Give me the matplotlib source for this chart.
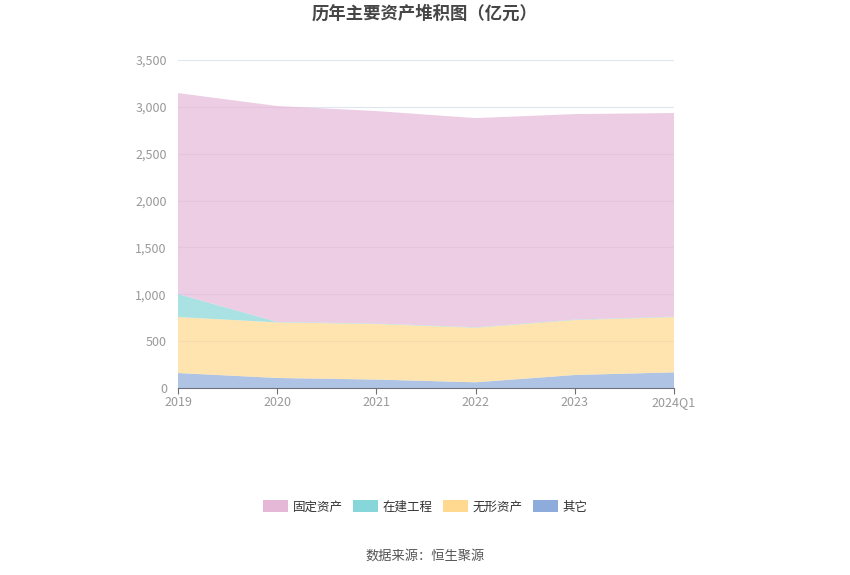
import matplotlib
matplotlib.use("Agg")
import matplotlib.pyplot as plt
from matplotlib.patches import Patch
from matplotlib.ticker import FuncFormatter

plt.rcParams['font.family'] = ['Noto Sans CJK SC', 'DejaVu Sans']

categories = ["2019", "2020", "2021", "2022", "2023", "2024Q1"]
other = [160, 107, 90, 61, 139, 167]
intangible = [597, 593, 593, 582, 586, 590]
construction = [246, 5, 5, 5, 5, 5]
fixed = [2144, 2304, 2267, 2232, 2193, 2172]

series_names = ["其它", "无形资产", "在建工程", "固定资产"]
colors = ["#8eacdb", "#ffd98f", "#87d6d9", "#e6b8d8"]

fig = plt.figure(figsize=(8.5, 5.75), dpi=100)
ax = fig.add_axes([178/850, 1-388/575, (674-178)/850, (388-60)/575])

x = list(range(len(categories)))
ax.grid(axis='y', color='#e0e6f1', linewidth=0.8, zorder=0)
ax.set_axisbelow(True)
ax.stackplot(x, other, intangible, construction, fixed, colors=colors,
             alpha=0.7, linewidth=0, zorder=2)

ax.set_xlim(0, len(categories)-1)
ax.set_ylim(0, 3500)
ax.set_yticks(range(0, 3501, 500))
ax.yaxis.set_major_formatter(FuncFormatter(lambda v, p: f"{int(v):,}"))
ax.set_xticks(x)
ax.set_xticklabels(categories)
for s in ['top', 'right', 'left']:
    ax.spines[s].set_visible(False)
ax.spines['bottom'].set_color('#6e7079')
ax.spines['bottom'].set_zorder(5)
ax.tick_params(axis='y', length=0, labelsize=9, labelcolor='#999999', pad=8)
ax.tick_params(axis='x', length=4, color='#6e7079', labelsize=9, labelcolor='#999999', pad=2)

fig.text(0.5, 1-14/575, "历年主要资产堆积图（亿元）", ha='center', va='center',
         fontsize=12.5, fontweight='bold', color='#464646')

handles = [Patch(facecolor=colors[i], edgecolor='none') for i in [3, 2, 1, 0]]
labels = [series_names[i] for i in [3, 2, 1, 0]]
fig.legend(handles, labels, loc='center', bbox_to_anchor=(0.5, 1-507/575), ncol=4,
           frameon=False, fontsize=9, handlelength=2.0, handleheight=1.1,
           columnspacing=0.8, handletextpad=0.4, labelcolor='#333333')

fig.text(0.5, 1-556/575, "数据来源：恒生聚源", ha='center', va='center', fontsize=9.5, color='#555555')

fig.savefig("out.png", dpi=100)
